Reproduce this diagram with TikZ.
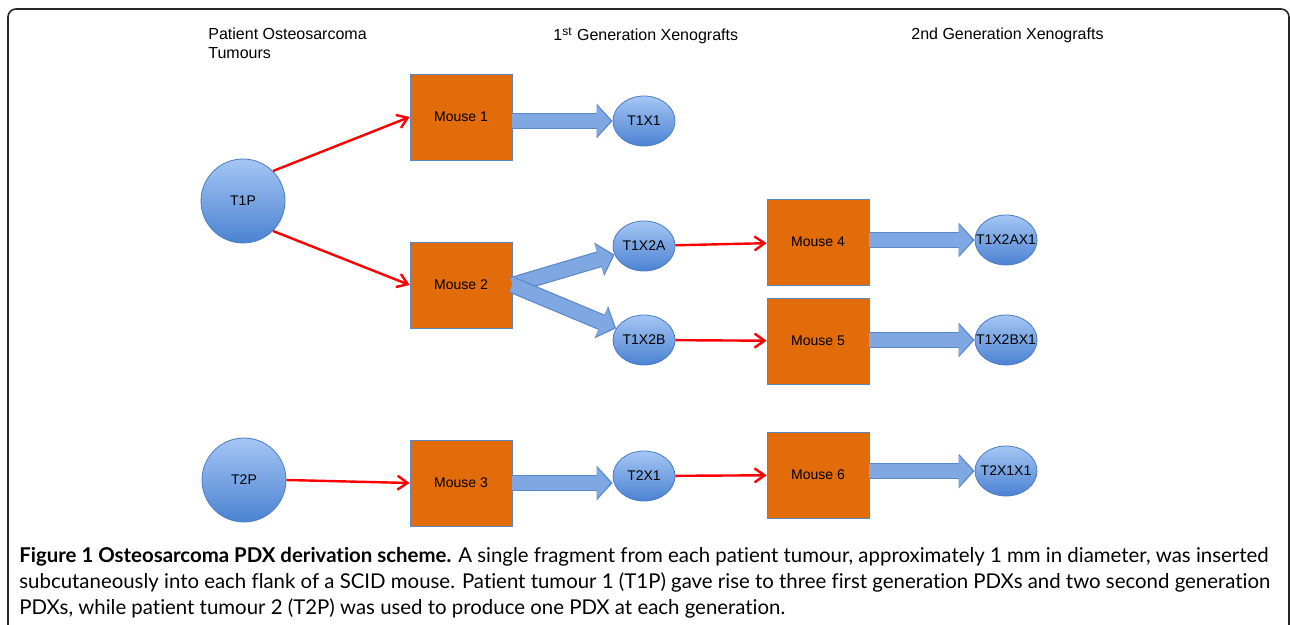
\documentclass[tikz,border=0pt]{standalone}
\usepackage{fontspec}
\setmainfont{Liberation Sans}
\newfontfamily\capfont[Ligatures=NoCommon]{Lato}
\usetikzlibrary{arrows.meta,shapes.geometric}

\definecolor{mouseorange}{HTML}{E36C0A}
\definecolor{mouseedge}{HTML}{5A86C4}
\definecolor{tumourtop}{HTML}{A4C6F4}
\definecolor{tumourbottom}{HTML}{4C82D2}
\definecolor{tumouredge}{HTML}{4A7CC4}
\definecolor{growfill}{HTML}{7FA8E2}
\definecolor{growedge}{HTML}{5A88CC}
\definecolor{implantred}{HTML}{FF0000}

\tikzset{
  mouse/.style={draw=mouseedge, fill=mouseorange, minimum width=51pt,
    minimum height=43pt, inner sep=0pt},
  tumour/.style={circle, draw=tumouredge, top color=tumourtop,
    bottom color=tumourbottom, minimum size=42pt, inner sep=0pt},
  xeno/.style={ellipse, draw=tumouredge, top color=tumourtop,
    bottom color=tumourbottom, minimum width=31pt, minimum height=25pt,
    inner xsep=-4pt, inner ysep=0pt},
  implant/.style={implantred, line width=1.2pt,
    -{Straight Barb[length=5pt,width=7pt]}},
  growth/.style={growfill, line width=7pt, -{Triangle[length=6.8pt,width=15pt]},
    shorten >=1pt,
    preaction={draw=growedge, line width=8.2pt,
      -{Triangle[length=8pt,width=17pt]}, shorten >=0pt}},
  heading/.style={anchor=north west, inner sep=0pt, align=left,
    font=\fontsize{8}{9.5}\selectfont},
  capline/.style={anchor=base west, inner sep=0pt,
    font=\capfont\fontsize{10.2}{13}\selectfont}
}

\begin{document}
\begin{tikzpicture}[x=0.5pt, y=-0.5pt, font=\fontsize{7}{9.5}\selectfont]

  \useasboundingbox (0,0) rectangle (1290,625);
  \draw[line width=0.8pt, color=black!85, rounded corners=4pt]
    (8,660) -- (8,9) -- (1289,9) -- (1289,660);

  % column headings
  \node[heading] (hpatient) at (208,28) {Patient Osteosarcoma\\Tumours};
  \node[heading] (hfirst) at (553,27) {1\textsuperscript{st} Generation Xenografts};
  \node[heading] (hsecond) at (911,28) {2nd Generation Xenografts};

  % patient tumours
  \node[tumour] (t1p) at (243,201) {T1P};
  \node[tumour] (t2p) at (244,480) {T2P};

  % mice
  \node[mouse] (m1) at (461,117) {Mouse 1};
  \node[mouse] (m2) at (461,285) {Mouse 2};
  \node[mouse] (m3) at (461,483) {Mouse 3};
  \node[mouse] (m4) at (818,242) {Mouse 4};
  \node[mouse] (m5) at (818,341) {Mouse 5};
  \node[mouse] (m6) at (818,475) {Mouse 6};

  % xenografts
  \node[xeno] (t1x1) at (644,121) {T1X1};
  \node[xeno] (t1x2a) at (644,246) {T1X2A};
  \node[xeno] (t1x2b) at (644,340) {T1X2B};
  \node[xeno] (t2x1) at (644,476) {T2X1};
  \node[xeno] (t1x2ax1) at (1006,240) {T1X2AX1};
  \node[xeno] (t1x2bx1) at (1006,340) {T1X2BX1};
  \node[xeno] (t2x1x1) at (1006,471) {T2X1X1};

  % implants
  \draw[implant] (t1p.north east) -- (m1.west);
  \draw[implant] (t1p.south east) -- (m2.west);
  \draw[implant] (t2p.east) -- (m3.west);
  \draw[implant] (t1x2a) -- (m4);
  \draw[implant] (t1x2b) -- (m5);
  \draw[implant] (t2x1) -- (m6);

  % tumour growth
  \draw[growth] (m1.east |- t1x1) -- (t1x1);
  \draw[growth] (m2.east) -- (t1x2a);
  \draw[growth] (m2.east) -- (t1x2b);
  \draw[growth] (m3.east) -- (m3.east -| t2x1.west);
  \draw[growth] (m4.east |- t1x2ax1) -- (t1x2ax1);
  \draw[growth] (m5.east |- t1x2bx1) -- (t1x2bx1);
  \draw[growth] (m6.east |- t2x1x1) -- (t2x1x1);

  % caption
  \node[capline] (cap1) at (19,562) {\textbf{Figure 1 Osteosarcoma PDX derivation scheme.} A single fragment from each patient tumour, approximately 1 mm in diameter, was inserted};
  \node[capline] (cap2) at (19,588) {subcutaneously into each flank of a SCID mouse. Patient tumour 1 (T1P) gave rise to three first generation PDXs and two second generation};
  \node[capline] (cap3) at (19,614) {PDXs, while patient tumour 2 (T2P) was used to produce one PDX at each generation.};

\end{tikzpicture}
\end{document}
